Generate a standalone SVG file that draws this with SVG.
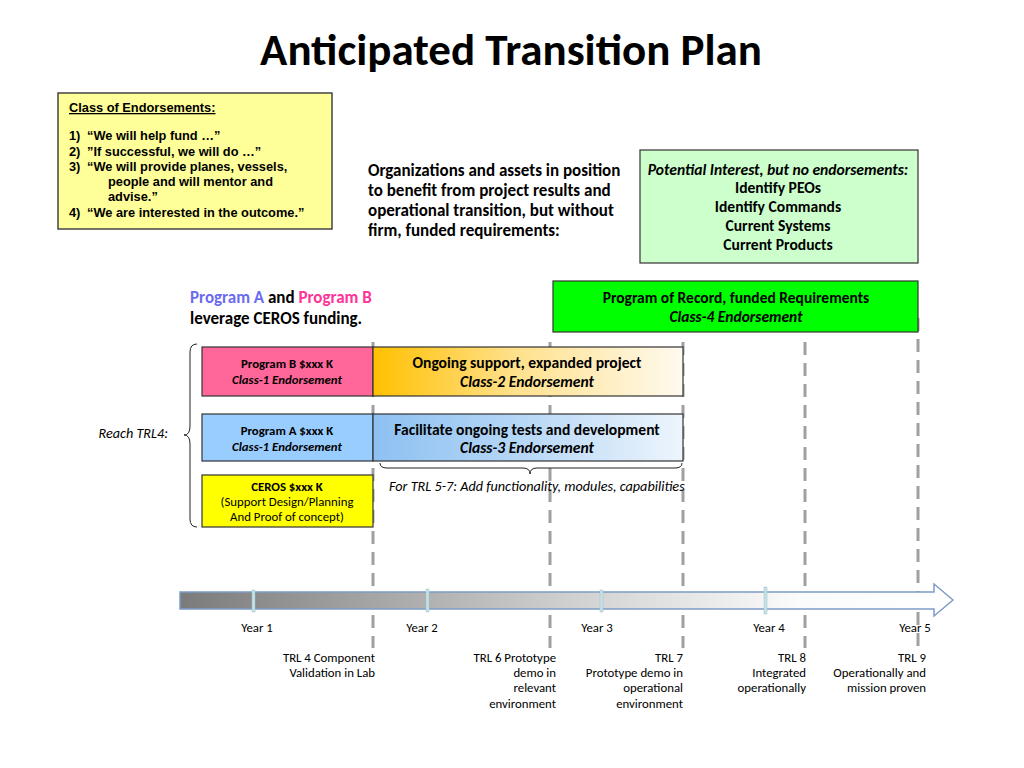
<svg xmlns="http://www.w3.org/2000/svg" width="1024" height="768" viewBox="0 0 1024 768">
<defs>
<linearGradient id="gOrange" x1="0" y1="0" x2="1" y2="0">
<stop offset="0" stop-color="#ffc000"/>
<stop offset="0.45" stop-color="#ffe08a"/>
<stop offset="1" stop-color="#fffaf0"/>
</linearGradient>
<linearGradient id="gBlue" x1="0" y1="0" x2="1" y2="0">
<stop offset="0" stop-color="#8dc0f2"/>
<stop offset="0.5" stop-color="#b8d8f6"/>
<stop offset="1" stop-color="#eef5fd"/>
</linearGradient>
<linearGradient id="gArrow" gradientUnits="userSpaceOnUse" x1="180" y1="0" x2="953" y2="0">
<stop offset="0" stop-color="#7b7b7b"/>
<stop offset="0.5" stop-color="#cfcfcf"/>
<stop offset="0.8" stop-color="#fbfbfb"/>
<stop offset="1" stop-color="#ffffff"/>
</linearGradient>
<style>
.c{font-family:Carlito,Lato,"Liberation Sans",sans-serif;}
.a{font-family:"Liberation Sans",Arial,sans-serif;font-weight:bold;font-size:12.8px;}
.b{font-weight:bold;}
.i{font-style:italic;}
.m{text-anchor:middle;}
.e{text-anchor:end;}
.box{stroke:#333;stroke-width:1.2;}
.dash{stroke:#a0a0a0;stroke-width:3;stroke-dasharray:13 8;fill:none;}
.tick{fill:#c4e2e6;stroke:#9cc4cc;stroke-width:0.5;}
.brace{fill:none;stroke:#222;stroke-width:1;}
.s11{font-size:12.8px;}
.s12{font-size:14.2px;}
.s14{font-size:15.6px;}
.s15{font-size:17px;}
</style>
</defs>
<rect width="1024" height="768" fill="#ffffff"/>

<text class="c b m" x="511" y="65" font-size="45">Anticipated Transition Plan</text>

<g id="class-endorsements">
<rect x="58" y="93" width="274" height="136" fill="#ffff99" stroke="#444" stroke-width="1.5"/>
<text class="a" x="69" y="112" text-decoration="underline">Class of Endorsements:</text>
<text class="a" x="69" y="140">1)</text><text class="a" x="87" y="140">“We will help fund …”</text>
<text class="a" x="69" y="156">2)</text><text class="a" x="87" y="156">”If successful, we will do …”</text>
<text class="a" x="69" y="171">3)</text><text class="a" x="87" y="171">“We will provide planes, vessels,</text>
<text class="a" x="108" y="186">people and will mentor and</text>
<text class="a" x="108" y="201">advise.”</text>
<text class="a" x="69" y="217">4)</text><text class="a" x="87" y="217">“We are interested in the outcome.”</text>
</g>

<g id="organizations-text">
<text class="c b s15" x="368" y="176">Organizations and assets in position</text>
<text class="c b s15" x="368" y="196">to benefit from project results and</text>
<text class="c b s15" x="368" y="216">operational transition, but without</text>
<text class="c b s15" x="368" y="236">firm, funded requirements:</text>
</g>

<g id="potential-interest">
<rect x="640" y="150" width="278" height="113" fill="#ccffcc" stroke="#333" stroke-width="1.2"/>
<text class="c b i m s14" x="778" y="175">Potential Interest, but no endorsements:</text>
<text class="c b m s14" x="778" y="193">Identify PEOs</text>
<text class="c b m s14" x="778" y="212">Identify Commands</text>
<text class="c b m s14" x="778" y="231">Current Systems</text>
<text class="c b m s14" x="778" y="250">Current Products</text>
</g>

<g id="leverage-text">
<text class="c b s15" x="190" y="303"><tspan fill="#6b6bf0">Program A</tspan> and <tspan fill="#ff3399">Program B</tspan></text>
<text class="c b s15" x="190" y="324">leverage CEROS funding.</text>
</g>

<g id="connectors">
<line class="dash" x1="373" y1="342" x2="373" y2="648"/>
<line class="dash" x1="550" y1="342" x2="550" y2="648"/>
<line class="dash" x1="683" y1="342" x2="683" y2="648"/>
<line class="dash" x1="805" y1="342" x2="805" y2="648"/>
<line class="dash" x1="918" y1="318" x2="918" y2="648"/>
<path class="brace" d="M197,344 Q190,344 190,352 L190,426 Q190,435 184,435 Q190,435 190,444 L190,519 Q190,527 197,527"/>
<path class="brace" d="M380,463 Q380,468 387,468 L523,468 Q530,468 530,474 Q530,468 537,468 L675,468 Q682,468 682,463"/>
</g>

<g id="program-of-record">
<rect class="box" x="553" y="281" width="365" height="51" fill="#00ff00"/>
<text class="c b m" font-size="15.5" x="736" y="303">Program of Record, funded Requirements</text>
<text class="c b i m" font-size="15.5" x="736" y="322">Class-4 Endorsement</text>
</g>

<g id="program-b">
<rect class="box" x="202" y="347" width="171" height="49" fill="#ff6699"/>
<text class="c b m s11" x="287" y="368">Program B $xxx K</text>
<text class="c b i m s11" x="287" y="384">Class-1 Endorsement</text>
</g>

<g id="ongoing-support">
<rect class="box" x="373" y="347" width="310" height="49" fill="url(#gOrange)"/>
<text class="c b m s14" x="527" y="368">Ongoing support, expanded project</text>
<text class="c b i m s14" x="527" y="387">Class-2 Endorsement</text>
</g>

<g id="program-a">
<rect class="box" x="202" y="414" width="171" height="47" fill="#99ccff"/>
<text class="c b m s11" x="287" y="435">Program A $xxx K</text>
<text class="c b i m s11" x="287" y="451">Class-1 Endorsement</text>
</g>

<g id="facilitate">
<rect class="box" x="373" y="414" width="310" height="47" fill="url(#gBlue)"/>
<text class="c b m s14" x="527" y="435">Facilitate ongoing tests and development</text>
<text class="c b i m s14" x="527" y="453">Class-3 Endorsement</text>
</g>

<g id="ceros">
<rect class="box" x="202" y="475" width="171" height="52" fill="#ffff00"/>
<text class="c b m s11" x="287" y="491">CEROS $xxx K</text>
<text class="c m s11" x="287" y="506">(Support Design/Planning</text>
<text class="c m s11" x="287" y="521">And Proof of concept)</text>
</g>

<g id="labels">
<text class="c i e s12" x="168" y="438">Reach TRL4:</text>
<text class="c i s12" x="389" y="491">For TRL 5-7: Add functionality, modules, capabilities</text>
</g>

<g id="timeline">
<path d="M180,592 L934,592 L934,584 L953,600 L934,616 L934,609 L180,609 Z" fill="url(#gArrow)" stroke="#7f9cc8" stroke-width="1.5"/>
<rect class="tick" x="252" y="590" width="3" height="22"/>
<rect class="tick" x="426" y="589" width="3" height="23"/>
<rect class="tick" x="600" y="590" width="3" height="22"/>
<rect class="tick" x="764" y="587" width="3" height="27"/>
<text class="c m s11" x="257" y="632">Year 1</text>
<text class="c m s11" x="422" y="632">Year 2</text>
<text class="c m s11" x="597" y="632">Year 3</text>
<text class="c m s11" x="769" y="632">Year 4</text>
<text class="c m s11" x="915" y="632">Year 5</text>
</g>

<g id="trl-labels">
<text class="c e s11" x="375" y="662">TRL 4 Component</text>
<text class="c e s11" x="375" y="677">Validation in Lab</text>
<text class="c e s11" x="556" y="662">TRL 6 Prototype</text>
<text class="c e s11" x="556" y="677">demo in</text>
<text class="c e s11" x="556" y="692">relevant</text>
<text class="c e s11" x="556" y="708">environment</text>
<text class="c e s11" x="683" y="662">TRL 7</text>
<text class="c e s11" x="683" y="677">Prototype demo in</text>
<text class="c e s11" x="683" y="692">operational</text>
<text class="c e s11" x="683" y="708">environment</text>
<text class="c e s11" x="806" y="662">TRL 8</text>
<text class="c e s11" x="806" y="677">Integrated</text>
<text class="c e s11" x="806" y="692">operationally</text>
<text class="c e s11" x="926" y="662">TRL 9</text>
<text class="c e s11" x="926" y="677">Operationally and</text>
<text class="c e s11" x="926" y="692">mission proven</text>
</g>
</svg>
